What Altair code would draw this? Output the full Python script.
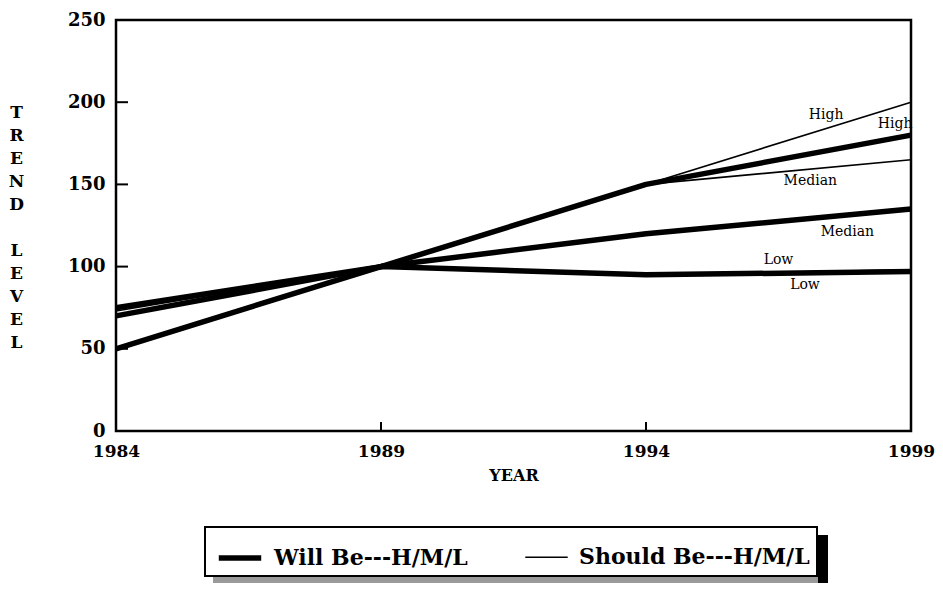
import altair as alt
import pandas as pd

# ---- data ----
years = [1984, 1989, 1994, 1999]
will_high = [50, 100, 150, 180]
will_median = [70, 100, 120, 135]
will_low = [75, 100, 95, 97]
should_high = [50, 100, 150, 200]
should_median = [50, 100, 150, 165]
should_low = [73, 100, 95, 98]

series_names = ["Will Be---H/M/L", "Should Be---H/M/L"]

label_text = ["High", "High", "Median", "Median", "Low", "Low"]
label_year = [1997.4, 1998.7, 1997.1, 1997.8, 1996.5, 1997.0]
label_value = [192, 187, 152, 121, 104, 89]

y_ticks = [0, 50, 100, 150, 200, 250]
x_ticks = [1984, 1989, 1994, 1999]
y_title = ["T", "R", "E", "N", "D", "\u2800", "L", "E", "V", "E", "L"]

W, H = 795, 411

rows = []
for name, lvl, vals in [
    (series_names[0], "High", will_high),
    (series_names[0], "Median", will_median),
    (series_names[0], "Low", will_low),
    (series_names[1], "High", should_high),
    (series_names[1], "Median", should_median),
    (series_names[1], "Low", should_low),
]:
    for yr, v in zip(years, vals):
        rows.append({"series": name, "level": lvl, "year": yr, "value": v})
df = pd.DataFrame(rows)

label_df = pd.DataFrame({"text": label_text, "year": label_year, "value": label_value})
ytick_df = pd.DataFrame({"v": y_ticks[1:-1]})
xtick_df = pd.DataFrame({"yr": x_ticks[1:-1]})

AX_FONT = "DejaVu Serif"

x_scale = alt.Scale(domain=[1984, 1999], nice=False, zero=False)
y_scale = alt.Scale(domain=[0, 250], nice=False)

LEG_X, LEG_Y = 89, 507

lines = alt.Chart(df).mark_line(color="black", strokeCap="butt", strokeJoin="round").encode(
    x=alt.X("year:Q", scale=x_scale,
            axis=alt.Axis(values=x_ticks, format="d", title="YEAR", domain=False, ticks=False,
                          grid=False, labelPadding=12, titlePadding=8, labelFlush=False,
                          labelFontSize=17)),
    y=alt.Y("value:Q", scale=y_scale,
            axis=alt.Axis(values=y_ticks, title=y_title, titleAngle=0, titleAlign="center",
                          titleBaseline="middle", titleLineHeight=23, titleX=-100, titleY=92,
                          titleFontSize=17,
                          domain=False, ticks=False, grid=False, labelPadding=11, labelFlush=False)),
    strokeWidth=alt.StrokeWidth(
        "series:N",
        scale=alt.Scale(domain=series_names, range=[5.5, 1.6]),
        legend=alt.Legend(
            title=None, orient="none", legendX=LEG_X, legendY=LEG_Y, direction="horizontal",
            symbolType="stroke", symbolStrokeColor="black", symbolSize=1800,
            strokeColor="black", fillColor="white", padding=7, columnPadding=52, symbolOffset=4,
            labelFont=AX_FONT, labelFontWeight="bold", labelFontSize=22, labelColor="black",
            labelOffset=10, labelLimit=400,
        ),
    ),
    detail="level:N",
)

labels = alt.Chart(label_df).mark_text(font="DejaVu Serif", fontSize=14, color="black").encode(
    x=alt.X("year:Q", scale=x_scale),
    y=alt.Y("value:Q", scale=y_scale),
    text="text:N",
)

yticks = alt.Chart(ytick_df).mark_rule(color="black", strokeWidth=2).encode(
    y=alt.Y("v:Q", scale=y_scale), x=alt.value(0), x2=alt.value(12)
)
xticks = alt.Chart(xtick_df).mark_rule(color="black", strokeWidth=2).encode(
    x=alt.X("yr:Q", scale=x_scale), y=alt.value(H), y2=alt.value(H - 9)
)

# decorative drop shadow of the legend box
shadow_df = pd.DataFrame({"k": [0]})
shadow_right = alt.Chart(shadow_df).mark_rect(color="black").encode(
    x=alt.value(702), x2=alt.value(712), y=alt.value(LEG_Y + 8), y2=alt.value(563)
)
shadow_bottom = alt.Chart(shadow_df).mark_rect(color="#9a9a9a").encode(
    x=alt.value(LEG_X + 8), x2=alt.value(704), y=alt.value(556), y2=alt.value(563)
)

chart = alt.layer(shadow_bottom, shadow_right, lines, labels, yticks, xticks).properties(
    width=W, height=H,
    autosize=alt.AutoSizeParams(type="none"),
    padding={"left": 108, "top": 12, "right": 24, "bottom": 160},
    background="white",
).configure_view(
    stroke="black", strokeWidth=2.5
).configure_axis(
    labelFont=AX_FONT, labelFontWeight="bold", labelFontSize=18, labelColor="black",
    titleFont=AX_FONT, titleFontWeight="bold", titleFontSize=16, titleColor="black",
).configure_legend(
    strokeWidth=2
)

chart.save("out.html", embed_options={"renderer": "svg", "actions": False})
